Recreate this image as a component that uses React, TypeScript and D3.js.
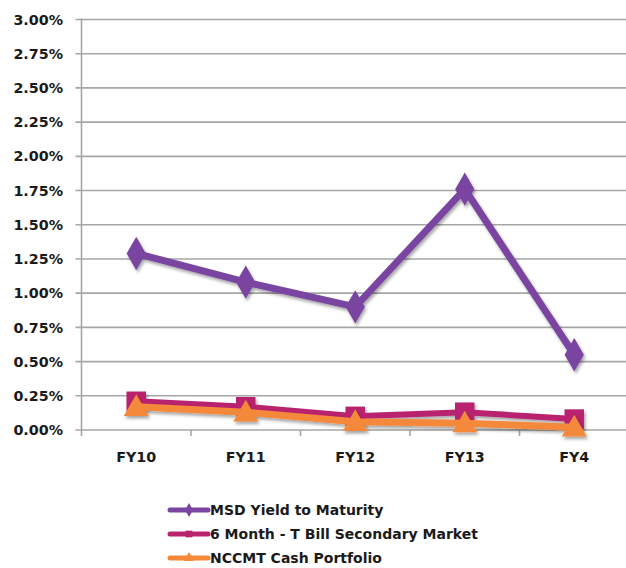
import React from "react";
import * as d3 from "d3";

const categories = ["FY10", "FY11", "FY12", "FY13", "FY4"];
const msdYield = [1.29, 1.08, 0.9, 1.76, 0.55];
const tBill = [0.21, 0.17, 0.1, 0.13, 0.08];
const nccmt = [0.17, 0.13, 0.06, 0.05, 0.02];
const yTicks = [0, 0.25, 0.5, 0.75, 1.0, 1.25, 1.5, 1.75, 2.0, 2.25, 2.5, 2.75, 3.0];
const seriesNames = ["MSD Yield to Maturity", "6 Month - T Bill Secondary Market", "NCCMT Cash Portfolio"];

const W = 626;
const H = 568;
const left = 81.5;
const right = 629;
const top = 19.5;
const bottom = 430;

const FONT = "'DejaVu Sans', sans-serif";

export default function App() {
  const x = d3.scaleBand<string>().domain(categories).range([left, right]);
  const xc = (c: string) => (x(c) as number) + x.bandwidth() / 2;
  const y = d3.scaleLinear().domain([0, 3]).range([bottom, top]);
  const line = d3
    .line<number>()
    .x((_, i) => xc(categories[i]))
    .y((d) => y(d));

  const series = [
    { name: seriesNames[0], data: msdYield, color: "#7A45A0", width: 7, marker: "diamond" },
    { name: seriesNames[1], data: tBill, color: "#B8246E", width: 6, marker: "square" },
    { name: seriesNames[2], data: nccmt, color: "#F5893A", width: 7, marker: "triangle" },
  ];

  const diamond = d3.symbol(d3.symbolDiamond, 320)();
  const square = d3.symbol(d3.symbolSquare, 380)();
  const triangle = d3.symbol(d3.symbolTriangle, 270)();
  const markerPath = (m: string) => (m === "diamond" ? diamond : m === "square" ? square : triangle);

  const legendX = 170;
  const legendY = [510, 534, 558];
  const legendMarker = (m: string) =>
    m === "diamond" ? d3.symbol(d3.symbolDiamond, 55)() : m === "square" ? d3.symbol(d3.symbolSquare, 45)() : d3.symbol(d3.symbolTriangle, 45)();

  return (
    <svg width={W} height={H} style={{ position: "absolute", left: 0, top: 0, background: "#fff" }}>
      <defs>
        <filter id="sh" x="-50%" y="-50%" width="200%" height="200%">
          <feDropShadow dx="1.5" dy="2.5" stdDeviation="1.5" floodColor="#000" floodOpacity="0.35" />
        </filter>
      </defs>
      {yTicks.map((t) => (
        <g key={t}>
          <line x1={left - 6} x2={right} y1={y(t)} y2={y(t)} stroke="#a6a6a6" strokeWidth={1.6} />
          <text
            x={63}
            y={y(t)}
            dy="0.36em"
            textAnchor="end"
            fontFamily={FONT}
            fontWeight="bold"
            fontSize={14.3}
            fill="#1a1a1a"
          >
            {t.toFixed(2)}%
          </text>
        </g>
      ))}
      <line x1={left} x2={left} y1={top - 1} y2={bottom + 6} stroke="#a6a6a6" strokeWidth={1.6} />
      {categories.slice(1).map((c) => (
        <line key={c} x1={x(c)} x2={x(c)} y1={bottom} y2={bottom + 6} stroke="#a6a6a6" strokeWidth={1.6} />
      ))}
      {categories.map((c) => (
        <text
          key={c}
          x={xc(c)}
          y={457}
          dy="0.36em"
          textAnchor="middle"
          fontFamily={FONT}
          fontWeight="bold"
          fontSize={14.3}
          fill="#1a1a1a"
        >
          {c}
        </text>
      ))}
      {series.map((s) => (
        <g key={s.name} filter="url(#sh)">
          <path d={line(s.data) as string} fill="none" stroke={s.color} strokeWidth={s.width} strokeLinejoin="round" />
          {s.data.map((v, i) => (
            <path
              key={i}
              d={markerPath(s.marker) as string}
              transform={`translate(${xc(categories[i])},${y(v) + (s.marker === "triangle" ? 2 : 0)})`}
              fill={s.color}
            />
          ))}
        </g>
      ))}
      {series.map((s, i) => (
        <g key={s.name}>
          <line x1={legendX} x2={legendX + 38} y1={legendY[i]} y2={legendY[i]} stroke={s.color} strokeWidth={5} strokeLinecap="round" />
          <path d={legendMarker(s.marker) as string} transform={`translate(${legendX + 19},${legendY[i]})`} fill={s.color} />
          <text
            x={legendX + 40}
            y={legendY[i]}
            dy="0.36em"
            fontFamily={FONT}
            fontWeight="bold"
            fontSize={14}
            fill="#1a1a1a"
          >
            {s.name}
          </text>
        </g>
      ))}
    </svg>
  );
}
